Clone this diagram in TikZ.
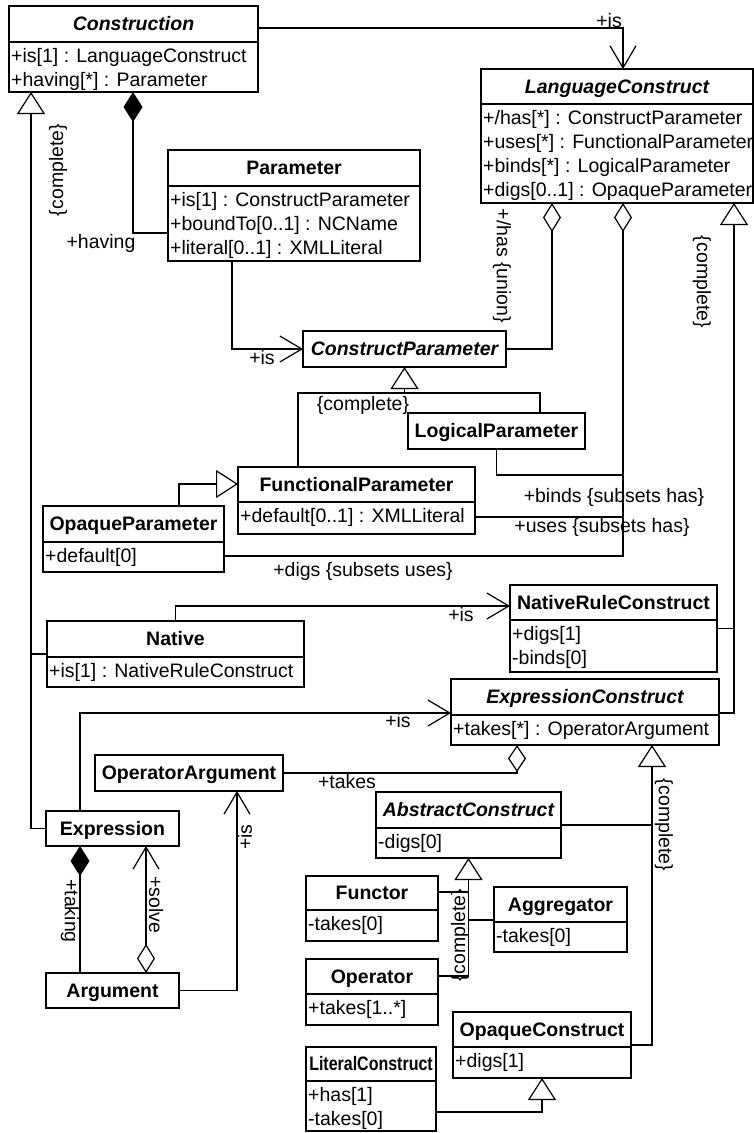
\documentclass[tikz,border=0pt]{standalone}
\usepackage{fontspec}
\setmainfont{Liberation Sans}
\usetikzlibrary{arrows.meta,calc}

% class box: name, x1, y1, x2, divider y, y2, title style, title
\newcommand\umlclass[8]{%
  \node[classbox, minimum width={#4-#2}, minimum height={#6-#3}] (#1) at (#2,#3) {};
  \draw[divider] (#2,#5) -- (#4,#5);
  \node[#7] (#1-title) at ({(#2+#4)/2},{(#3+#5)/2+6.5}) {#8};
}
% attribute line: name, x, baseline y, text
\newcommand\umlattr[4]{\node[attr] (#1) at (#2,#3) {#4};}

\begin{document}
\begin{tikzpicture}[x=1pt,y=-1pt,
  font=\fontsize{19.5}{24}\selectfont,
  classbox/.style={draw, fill=white, line width=1.6pt, rectangle, inner sep=0pt, outer sep=0pt, anchor=north west},
  divider/.style={line width=1.6pt},
  ttl/.style={anchor=base, inner sep=0pt, font=\fontsize{19.5}{24}\selectfont\bfseries},
  attl/.style={anchor=base, inner sep=0pt, font=\fontsize{19.5}{24}\selectfont\bfseries\itshape},
  attr/.style={anchor=base west, inner sep=0pt},
  lbl/.style={inner sep=0pt},
  conn/.style={line width=1.2pt},
  gen/.style={conn, -{Triangle[open, length=22pt, width=28pt]}},
  navi/.style={conn, -{Straight Barb[length=22pt, width=26pt]}},
  aggr/.style={conn, {Diamond[open, length=29pt, width=18pt]}-},
  aggrs/.style={conn, {Diamond[open, length=27pt, width=18pt]}-},
  compo/.style={conn, {Diamond[length=30pt, width=19pt]}-},
]
\fill[white] (0,0) rectangle (754,1133);
\useasboundingbox (0,0) rectangle (754,1133);

% ---------- classes ----------
\umlclass{Construction}{9}{6}{258}{42}{92}{attl}{Construction}
\umlattr{c-a1}{11}{62}{+is[1] : LanguageConstruct}
\umlattr{c-a2}{11}{86}{+having[*] : Parameter}

\umlclass{LanguageConstruct}{481}{69}{753}{104}{203}{attl}{LanguageConstruct}
\umlattr{lc-a1}{483}{124}{+/has[*] : ConstructParameter}
\umlattr{lc-a2}{483}{148}{+uses[*] : FunctionalParameter}
\umlattr{lc-a3}{483}{172}{+binds[*] : LogicalParameter}
\umlattr{lc-a4}{483}{196}{+digs[0..1] : OpaqueParameter}

\umlclass{Parameter}{168}{150}{420}{186}{261}{ttl}{Parameter}
\umlattr{p-a1}{170}{206}{+is[1] : ConstructParameter}
\umlattr{p-a2}{170}{230}{+boundTo[0..1] : NCName}
\umlattr{p-a3}{170}{254}{+literal[0..1] : XMLLiteral}

\umlclass{ConstructParameter}{303}{331}{506}{367}{367}{attl}{ConstructParameter}
\umlclass{LogicalParameter}{408}{413}{585}{449}{449}{ttl}{LogicalParameter}

\umlclass{FunctionalParameter}{238}{467}{475}{502}{534}{ttl}{FunctionalParameter}
\umlattr{fp-a1}{240}{522}{+default[0..1] : XMLLiteral}

\umlclass{OpaqueParameter}{43}{506}{224}{542}{572}{ttl}{OpaqueParameter}
\umlattr{op-a1}{45}{562}{+default[0]}

\umlclass{Native}{47}{621}{304}{657}{687}{ttl}{Native}
\umlattr{n-a1}{49}{677}{+is[1] : NativeRuleConstruct}

\umlclass{NativeRuleConstruct}{510}{585}{717}{620}{672}{ttl}{NativeRuleConstruct}
\umlattr{nr-a1}{512}{640}{+digs[1]}
\umlattr{nr-a2}{512}{664}{-binds[0]}

\umlclass{ExpressionConstruct}{451}{679}{719}{715}{745}{attl}{ExpressionConstruct}
\umlattr{ec-a1}{453}{735}{+takes[*] : OperatorArgument}

\umlclass{OperatorArgument}{95}{755}{283}{791}{791}{ttl}{OperatorArgument}
\umlclass{Expression}{46}{811}{179}{846}{846}{ttl}{Expression}
\umlclass{Argument}{46}{973}{179}{1008}{1008}{ttl}{Argument}

\umlclass{AbstractConstruct}{376}{792}{561}{828}{858}{attl}{AbstractConstruct}
\umlattr{ac-a1}{378}{848}{-digs[0]}

\umlclass{Functor}{306}{876}{438}{910}{941}{ttl}{Functor}
\umlattr{fu-a1}{308}{930}{-takes[0]}

\umlclass{Aggregator}{494}{887}{627}{922}{952}{ttl}{Aggregator}
\umlattr{ag-a1}{496}{942}{-takes[0]}

\umlclass{Operator}{306}{959}{438}{994}{1025}{ttl}{Operator}
\umlattr{o-a1}{308}{1014}{+takes[1..*]}

\umlclass{OpaqueConstruct}{453}{1012}{631}{1047}{1078}{ttl}{OpaqueConstruct}
\umlattr{oc-a1}{455}{1067}{+digs[1]}

\umlclass{LiteralConstruct}{306}{1047}{436}{1081}{1131}{ttl}{\scalebox{0.82}[1]{LiteralConstruct}}
\umlattr{li-a1}{308}{1101}{+has[1]}
\umlattr{li-a2}{308}{1125}{-takes[0]}

% ---------- associations and generalizations ----------
% Construction --> LanguageConstruct
\draw[navi] ($(Construction.north east)+(0,22)$) -| ($(LanguageConstruct.north west)+(142,0)$);
\node[lbl, anchor=base east] (l-is1) at (622,27) {+is};

% specializations of Construction
\coordinate (gC) at ($(Construction.south west)+(22,0)$);
\draw[gen] (Expression.west) -| (gC);
\draw[conn] (Native.west) -- (Native.west -| gC);
\node[lbl, rotate=90] (l-c1) at (58,170) {\{complete\}};

% Construction composed of Parameter
\draw[compo] ($(Construction.south west)+(124,0)$) |- ($(Parameter.south west)+(0,-28)$);
\node[lbl] (l-having) at (101,243) {+having};

% Parameter --> ConstructParameter
\draw[navi] ($(Parameter.south west)+(64,0)$) |- (ConstructParameter.west);
\node[lbl] (l-is2) at (262,358) {+is};

% LanguageConstruct aggregates ConstructParameter
\draw[aggr] ($(LanguageConstruct.south west)+(71,0)$) |- (ConstructParameter.east);
\node[lbl, rotate=-90] (l-has) at (502,266) {+/has \{union\}};

% LanguageConstruct aggregates the parameter kinds
\coordinate (aL) at ($(LanguageConstruct.south west)+(142,0)$);
\draw[aggr] (aL) |- ($(OpaqueParameter.south east)+(0,-16)$);
\coordinate (fpU) at ($(FunctionalParameter.south east)+(0,-17)$);
\draw[conn] (fpU) -- (fpU -| aL);
\coordinate (lpB) at ($(LogicalParameter.south)+(0,26)$);
\draw[conn] (LogicalParameter.south) -- (lpB) -- (lpB -| aL);
\node[lbl] (l-binds) at (614,497) {+binds \{subsets has\}};
\node[lbl] (l-uses) at (602,527) {+uses \{subsets has\}};
\node[lbl] (l-digs) at (363,571) {+digs \{subsets uses\}};

% specializations of ConstructParameter
\coordinate (gP) at ($(ConstructParameter.south)+(0,26)$);
\draw[conn] ($(FunctionalParameter.north west)+(60,0)$) |- (gP) -| ($(LogicalParameter.north west)+(132,0)$);
\draw[gen] (gP) -- (ConstructParameter.south);
\node[lbl] (l-c2) at (363,405) {\{complete\}};

% OpaqueParameter specializes FunctionalParameter
\draw[gen] ($(OpaqueParameter.north west)+(136,0)$) |- ($(FunctionalParameter.north west)+(0,17)$);

% specializations of LanguageConstruct
\coordinate (gR) at ($(LanguageConstruct.south east)+(-19,0)$);
\coordinate (ecR) at ($(ExpressionConstruct.north east)+(0,34)$);
\draw[gen] (ecR) -| (gR);
\draw[conn] (NativeRuleConstruct.east) -- (NativeRuleConstruct.east -| gR);
\node[lbl, rotate=-90] (l-c3) at (702,282) {\{complete\}};

% Native --> NativeRuleConstruct
\draw[navi] (Native.north) |- ($(NativeRuleConstruct.north west)+(0,21)$);
\node[lbl] (l-is3) at (461,615) {+is};

% Expression --> ExpressionConstruct
\draw[navi] ($(Expression.north west)+(34,0)$) |- ($(ExpressionConstruct.north west)+(0,34)$);
\node[lbl] (l-is4) at (398,721) {+is};

% ExpressionConstruct aggregates OperatorArgument
\draw[aggrs] ($(ExpressionConstruct.south west)+(66,0)$) |- (OperatorArgument.east);
\node[lbl] (l-takes) at (347,782) {+takes};

% specializations of ExpressionConstruct
\coordinate (gE) at ($(ExpressionConstruct.south west)+(201,0)$);
\draw[gen] (OpaqueConstruct.east) -| (gE);
\draw[conn] (AbstractConstruct.east) -- (AbstractConstruct.east -| gE);
\node[lbl, rotate=-90] (l-c4) at (664,825) {\{complete\}};

% specializations of AbstractConstruct
\coordinate (opE) at ($(Operator.north east)+(0,17)$);
\draw[gen] (opE) -| (AbstractConstruct.south);
\coordinate (fnE) at ($(Functor.north east)+(0,16)$);
\draw[conn] (fnE) -- (fnE -| AbstractConstruct.south);
\coordinate (agW) at ($(Aggregator.north west)+(0,33)$);
\draw[conn] (agW) -- (agW -| AbstractConstruct.south);
\node[lbl, rotate=90] (l-c5) at (460,935) {\{complete\}};

% Expression composed of Argument
\draw[compo] ($(Expression.south west)+(34,0)$) -- ($(Argument.north west)+(34,0)$);
\node[lbl, rotate=-90] (l-taking) at (70,911) {+taking};

% Argument aggregated, navigable to Expression
\draw[conn, {Diamond[open, length=29pt, width=18pt]}-{Straight Barb[length=22pt, width=26pt]}]
  ($(Argument.north west)+(100,0)$) -- ($(Expression.south west)+(100,0)$);
\node[lbl, rotate=-90] (l-solve) at (156,905) {+solve};

% Argument --> OperatorArgument
\draw[navi] (Argument.east) -| ($(OperatorArgument.south west)+(142,0)$);
\node[lbl, rotate=90] (l-is5) at (245,837) {+is};

% LiteralConstruct specializes OpaqueConstruct
\draw[gen] ($(LiteralConstruct.south east)+(0,-19)$) -| (OpaqueConstruct.south);

\end{tikzpicture}
\end{document}
